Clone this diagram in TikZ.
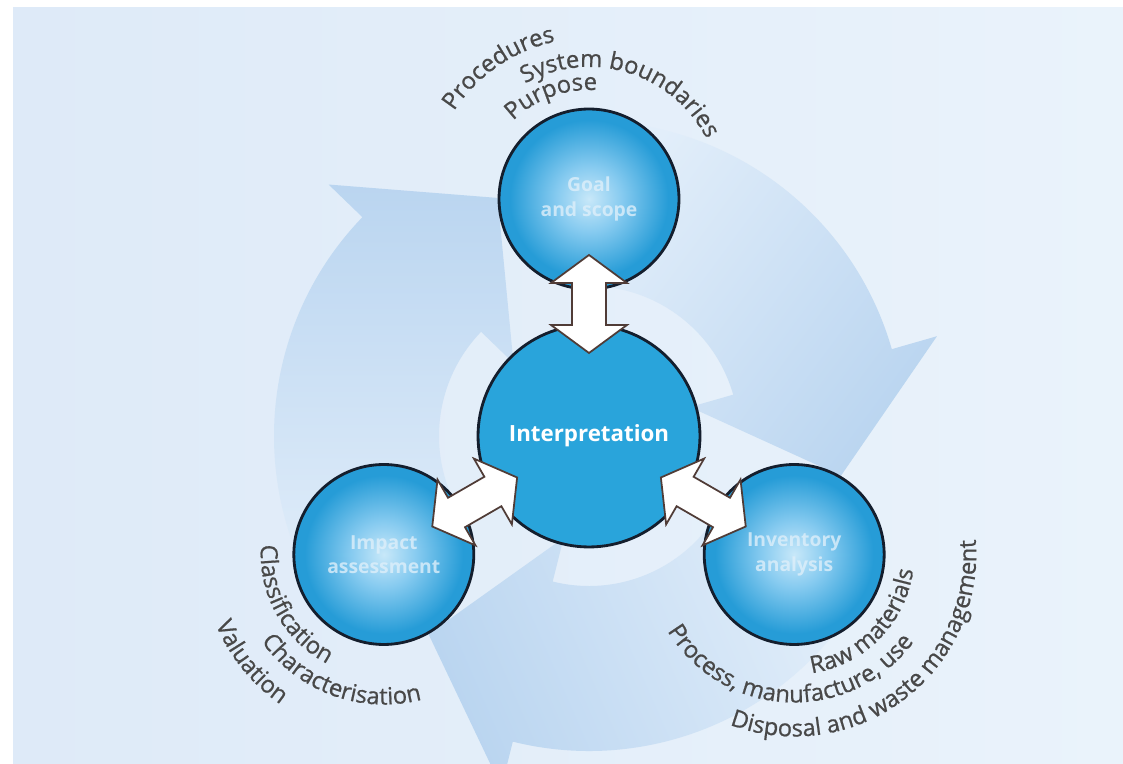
\documentclass[tikz,border=0pt]{standalone}
\usepackage{fontspec}
\setmainfont{Open Sans}
\newfontfamily\lcaface{Open Sans}[FakeBold=0.7]
\usetikzlibrary{decorations.text,calc}

\definecolor{bgA}{RGB}{222,234,248}
\definecolor{bgB}{RGB}{240,246,252}
\definecolor{bgC}{RGB}{234,243,251}
\definecolor{ringDark}{RGB}{186,213,240}
\definecolor{ringLight}{RGB}{226,238,250}
\definecolor{ballA}{RGB}{200,232,249}
\definecolor{ballB}{RGB}{135,203,240}
\definecolor{ballC}{RGB}{38,156,215}
\definecolor{centreBlue}{RGB}{41,164,219}
\definecolor{rimNavy}{RGB}{20,30,45}
\definecolor{arrowRim}{RGB}{80,60,55}
\definecolor{labelGrey}{RGB}{72,72,72}
\definecolor{faintWhite}{RGB}{222,239,250}

\pgfdeclareradialshading{ball}{\pgfpoint{0bp}{0bp}}{color(0bp)=(ballA); color(9bp)=(ballB); color(22bp)=(ballC); color(25bp)=(ballC); color(50bp)=(ballC)}

\newcommand\lcafont{\lcaface\fontsize{13.5}{16}\selectfont}

\newcommand\ringarrow[2]{%
  \shade[top color=ringDark, bottom color=ringLight, shading angle=#2]
    (#1+75:315) arc[start angle=#1+75, end angle=#1, radius=315]
    -- (#1:362) -- (#1-25:255) -- (#1:105) -- (#1:150)
    arc[start angle=#1, end angle=#1+75, radius=150] -- cycle;}

\begin{document}
\begin{tikzpicture}[x=0.02cm, y=0.02cm,
  outerball/.style={circle, draw=rimNavy, line width=1.6pt, shade, shading=ball,
    minimum size=3.6cm, inner sep=0pt, align=center, text=faintWhite, text opacity=0.8,
    font=\bfseries\fontsize{11}{14}\selectfont},
  centreball/.style={circle, draw=rimNavy, line width=1.6pt, fill=centreBlue,
    minimum size=4.44cm, inner sep=0pt, text=white,
    font=\bfseries\fontsize{12.7}{15}\selectfont},
  linkarrow/.style={fill=white, draw=arrowRim, line width=1pt, line join=miter},
  curvetext/.style={decorate, decoration={text along path, text align=center,
    text color=labelGrey, text={|\lcafont|#1}}}]

\useasboundingbox (0,0) rectangle (1123,764);
\fill[white] (0,0) rectangle (1123,764);
\shade[left color=bgA, middle color=bgB, right color=bgC] (13,0) rectangle (1123,756);

\coordinate (O) at (589,328);

% background ring of three chasing arrows
\begin{scope}[shift={(O)}]
  \ringarrow{136}{0}
  \ringarrow{16}{-126.5}
  \ringarrow{-104}{113.6}
\end{scope}

% circles
\node[centreball] (ctr) at (O) {Interpretation};
\node[outerball] (top) at (589,565) {Goal\\and scope};
\node[outerball] (left) at (383.8,209.5) {Impact\\assessment};
\node[outerball] (right) at (794.2,209.5) {Inventory\\analysis};

% double arrows between interpretation and the three phases
\foreach \ang in {90,210,330}{
  \begin{scope}[shift={(ctr.center)}, rotate=\ang-90]
    \draw[linkarrow] (0,83) -- (38,111) -- (17,111) -- (17,153) -- (38,153)
      -- (0,181) -- (-38,153) -- (-17,153) -- (-17,111) -- (-38,111) -- cycle;
  \end{scope}
}

% curved labels, top
\path[curvetext={Purpose}] ($(top.center)+(200:109)$) arc[start angle=200, end angle=20, radius=109];
\path[curvetext={System boundaries}] ($(top.center)+(163:132)$) arc[start angle=163, end angle=-17, radius=132];
\path[curvetext={Procedures}] ($(top.center)+(214.5:161)$) arc[start angle=214.5, end angle=34.5, radius=161];

% curved labels, left
\path[curvetext={Classification}] ($(left.center)+(119:123)$) arc[start angle=119, end angle=299, radius=123];
\path[curvetext={Characterisation}] ($(left.center)+(160:150)$) arc[start angle=160, end angle=340, radius=150];
\path[curvetext={Valuation}] ($(left.center)+(129:182)$) arc[start angle=129, end angle=309, radius=182];

% curved labels, right
\path[curvetext={Raw materials}] ($(right.center)+(225.5:120)$) arc[start angle=225.5, end angle=405.5, radius=120];
\path[curvetext={Process, manufacture, use}] ($(right.center)+(177.5:148)$) arc[start angle=177.5, end angle=357.5, radius=148];
\path[curvetext={Disposal and waste management}] ($(right.center)+(217:182)$) arc[start angle=217, end angle=397, radius=182];

\end{tikzpicture}
\end{document}
